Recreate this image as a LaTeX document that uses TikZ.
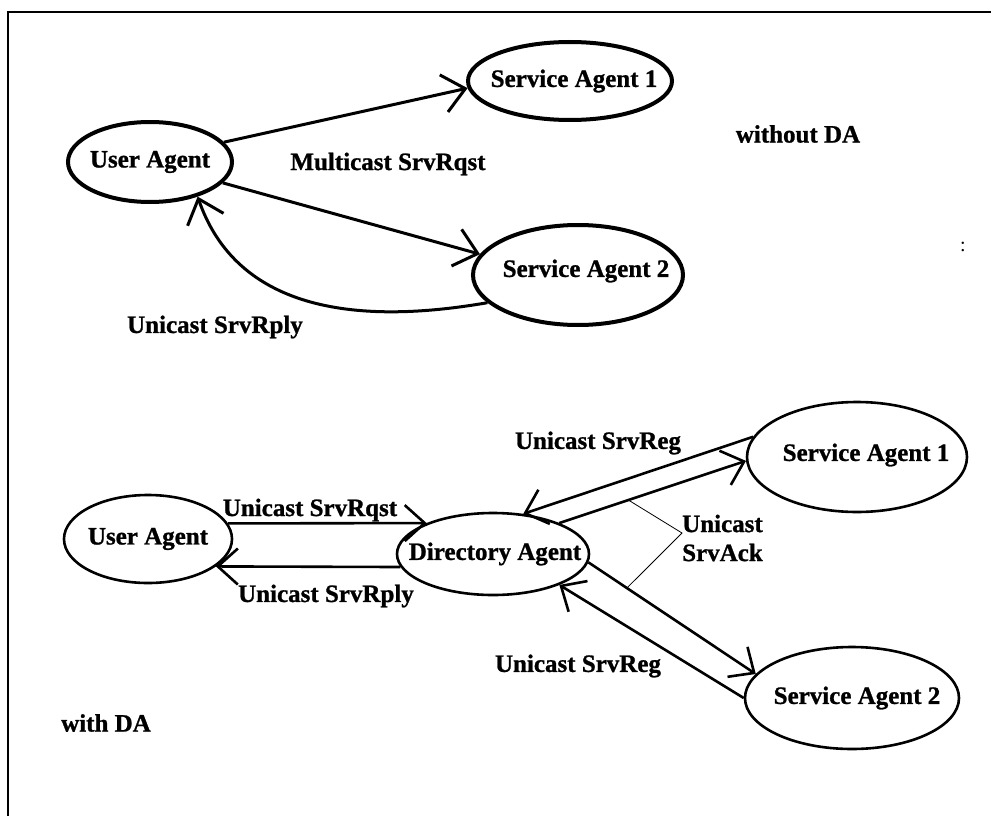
\documentclass[tikz,border=0pt]{standalone}
\usepackage{fontspec}
\setmainfont{Liberation Serif}[BoldFeatures={FakeBold=1}]
\usetikzlibrary{arrows.meta,shapes.geometric,calc}

\begin{document}
\begin{tikzpicture}[x=1pt,y=-1pt,
  lbl/.style={font=\fontsize{25}{29}\selectfont\bfseries, inner sep=0pt},
  agent/.style={ellipse, draw, inner sep=0pt},
  thickagent/.style={agent, line width=4pt},
  thinagent/.style={agent, line width=2.6pt},
  msgT/.style={draw, line width=3pt, -{Straight Barb[length=22pt,width=38pt]}},
  msgB/.style={draw, line width=2.6pt, -{Straight Barb[length=20pt,width=36pt]}},
  bracket/.style={draw, line width=0.8pt}]

\useasboundingbox (0,0) rectangle (991,816);

% partial frame
\draw[line width=2pt] (8,816) -- (8,12) -- (991,12);

% ---------- without a directory agent ----------
\node[thickagent, minimum width=164pt, minimum height=80pt,
      label={[lbl]center:User Agent}] (ua) at (150,162) {};
\node[thickagent, minimum width=204pt, minimum height=78pt,
      label={[lbl, xshift=4pt]center:Service Agent 1}] (sa1) at (570,81) {};
\node[thickagent, minimum width=210pt, minimum height=100pt,
      label={[lbl, xshift=8pt, yshift=4pt]center:Service Agent 2}] (sa2) at (578,275) {};

\node[lbl] (mc) at (388,164) {Multicast SrvRqst};
\node[lbl] (woda) at (798,134) {without DA};
\node[lbl] (urply) at (215,327) {Unicast SrvRply};
\node[font=\fontsize{20}{20}\selectfont, inner sep=0pt] (colon) at (963,247) {:};

\draw[msgT] (ua.15) -- (sa1.184);
\draw[msgT] (ua.-16) -- (sa2.168);
\draw[msgT] (sa2.197) .. controls (330,330) and (232,296) .. (ua.-36);

% ---------- with a directory agent ----------
\node[thinagent, minimum width=168pt, minimum height=88pt,
      label={[lbl]center:User Agent}] (ua2) at (148,539) {};
\node[thinagent, minimum width=192pt, minimum height=82pt,
      label={[lbl, xshift=2pt]center:Directory Agent}] (da) at (493,554) {};
\node[thinagent, minimum width=220pt, minimum height=110pt,
      label={[lbl, xshift=9pt, yshift=2pt]center:Service Agent 1}] (sa1b) at (857,457) {};
\node[thinagent, minimum width=214pt, minimum height=102pt,
      label={[lbl, xshift=5pt]center:Service Agent 2}] (sa2b) at (852,698) {};

\node[lbl] (urqst2) at (310,510) {Unicast SrvRqst};
\node[lbl] (urply2) at (326,596) {Unicast SrvRply};
\node[lbl] (ureg1) at (598,443) {Unicast SrvReg};
\node[lbl] (ureg2) at (578,666) {Unicast SrvReg};
\node[lbl, anchor=west, align=left] (uack) at (682,538) {Unicast\\SrvAck};
\node[lbl] (wda) at (106,723) {with DA};

\draw[msgB] (ua2.11.5) -- (da.155.5);
\draw[msgB] (da.188.6) -- (ua2.-22.8);
\draw[msgB] (sa1b.169) -- (da.53.4);
\draw[msgB] (da.25) -- (sa1b.182);
\draw[msgB] (da.-5) -- (sa2b.166);
\draw[msgB] (sa2b.180) -- (da.-25.5);

% bracket joining the two acknowledgement lines to their label
\coordinate (ackA) at ($(da.25)!0.37!(sa1b.182)$);
\coordinate (ackB) at ($(da.-5)!0.23!(sa2b.166)$);
\coordinate (ackC) at (682,533);
\draw[bracket] (ackA) -- (ackC) -- (ackB);

\end{tikzpicture}
\end{document}
